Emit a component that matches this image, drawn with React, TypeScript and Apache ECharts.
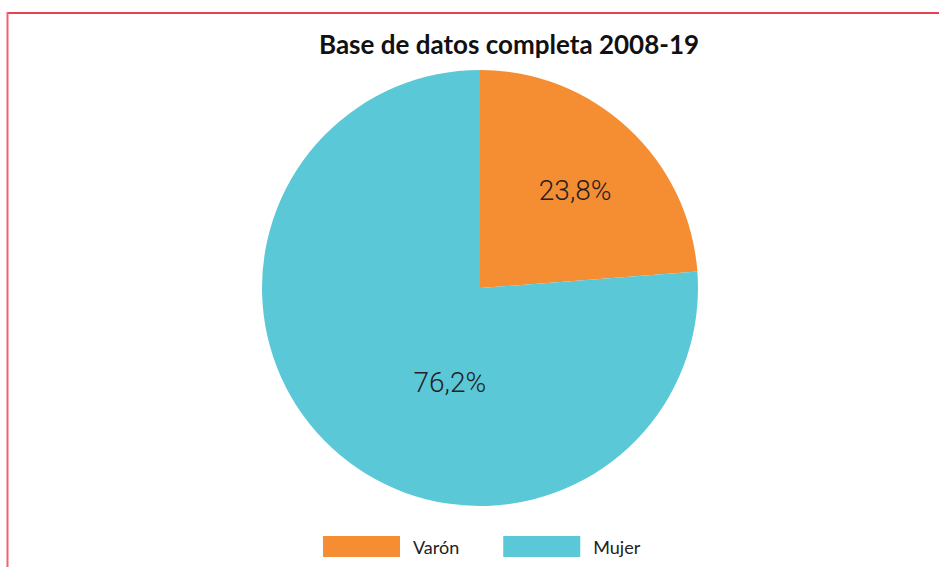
import React, { useEffect, useRef } from "react";
import * as echarts from "echarts";

const titleText = "Base de datos completa 2008-19";
const categories = ["Varón", "Mujer"];
const values = [23.8, 76.2];
const colors = ["#F58D33", "#5BC8D8"];

export default function App() {
  const ref = useRef<HTMLDivElement>(null);
  useEffect(() => {
    if (!ref.current) return;
    const chart = echarts.init(ref.current, undefined, { renderer: "svg" });
    const labelShift = [
      { dx: 19, dy: -15 },
      { dx: 46, dy: 12 },
    ];
    chart.setOption({
      animation: false,
      backgroundColor: "#ffffff",
      title: {
        text: titleText,
        left: 314,
        top: 26,
        textStyle: {
          fontFamily: "Lato",
          fontWeight: "bold",
          fontSize: 26,
          color: "#111111",
        },
      },
      legend: {
        data: categories,
        left: 318,
        top: 531,
        itemWidth: 77,
        itemHeight: 21,
        itemGap: 44,
        icon: "rect",
        textStyle: {
          fontFamily: "Lato",
          fontSize: 18,
          color: "#222222",
          padding: [0, 0, 0, 8],
        },
      },
      graphic: [
        {
          type: "line",
          shape: { x1: 7, y1: 13, x2: 939, y2: 13 },
          style: { stroke: "#E8414F", lineWidth: 2 },
        },
        {
          type: "line",
          shape: { x1: 7.5, y1: 12, x2: 7.5, y2: 567 },
          style: { stroke: "#F0636C", lineWidth: 2 },
        },
      ],
      series: [
        {
          type: "pie",
          center: [480, 288],
          radius: [0, 218],
          startAngle: 90,
          clockwise: true,
          label: {
            show: true,
            position: "inside",
            fontFamily: "Roboto",
            fontWeight: 300,
            fontSize: 28,
            color: "#222222",
            formatter: (p: any) => String(p.value).replace(".", ",") + "%",
          },
          labelLine: { show: false },
          labelLayout: (p: any) => labelShift[p.dataIndex],
          emphasis: { disabled: true },
          itemStyle: { borderWidth: 0 },
          data: categories.map((c, i) => ({
            name: c,
            value: values[i],
            itemStyle: { color: colors[i] },
          })),
        },
      ],
    });
    return () => chart.dispose();
  }, []);
  return (
    <div
      ref={ref}
      style={{ position: "fixed", left: 0, top: 0, width: 939, height: 567 }}
    />
  );
}
